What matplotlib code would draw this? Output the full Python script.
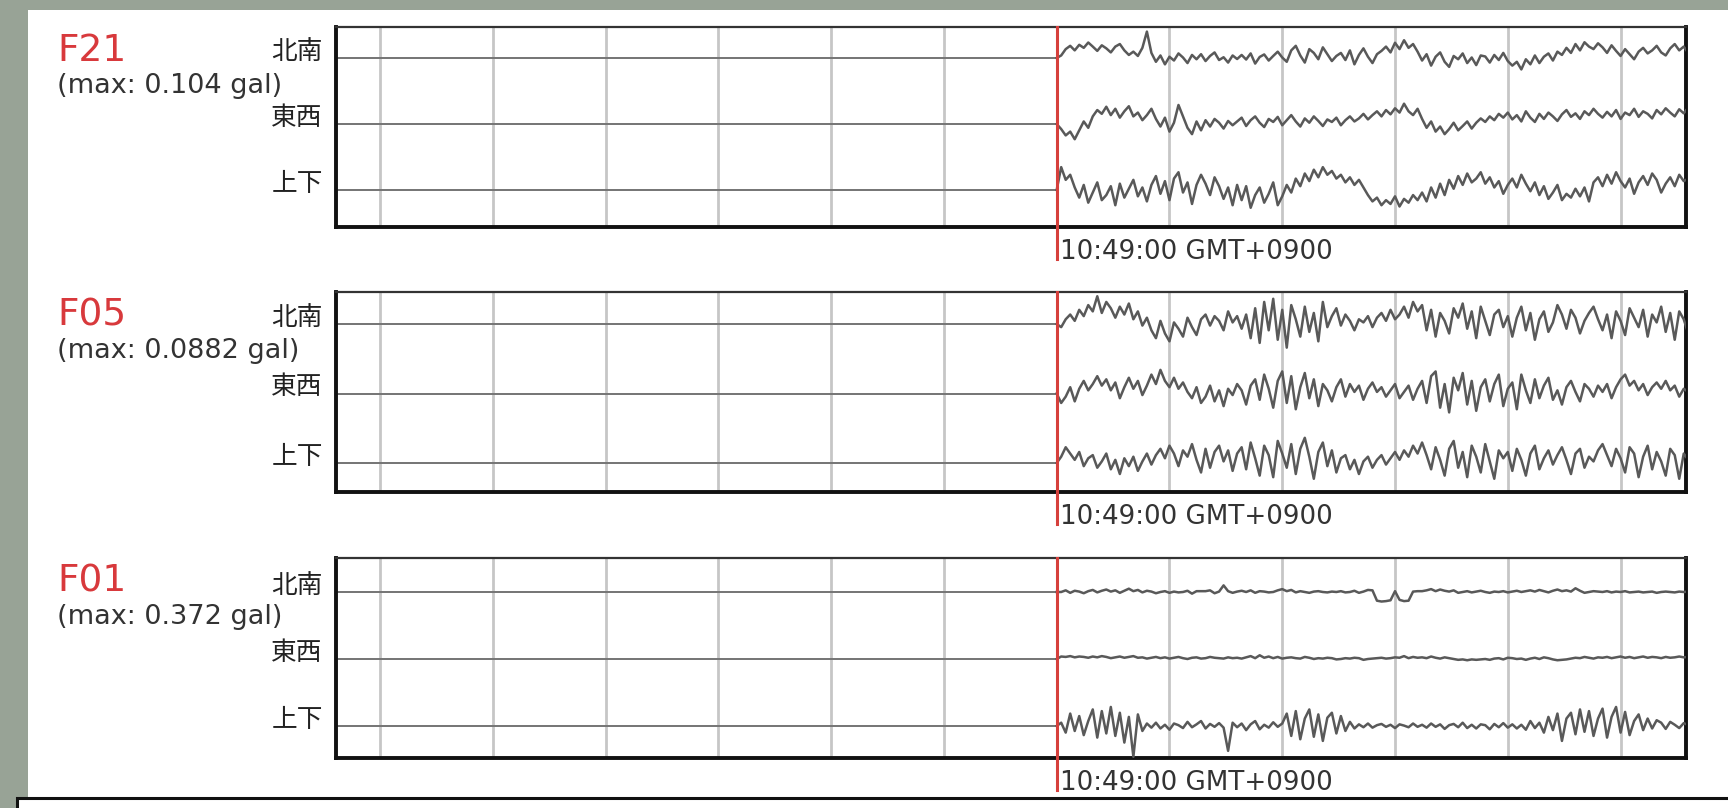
import numpy as np
import matplotlib.pyplot as plt
from matplotlib.patches import Rectangle

# --- DATA ---
STATIONS = ["F21", "F05", "F01"]
PEAK_GAL = [0.104, 0.0882, 0.372]
COMPONENTS = ["北南", "東西", "上下"]
TRIGGER_LABEL = "10:49:00 GMT+0900"

# seconds relative to the trigger time
GRID_SECONDS = [-60, -50, -40, -30, -20, -10, 10, 20, 30, 40, 50]
RECORD_START = -64.0
SAMPLE_DT = 0.4

# acceleration samples after the trigger, in 0.001 gal
F21_NS = [10, 35, 48, 30, 52, 40, 61, 45, 28, 50, 38, 22, 45, 55, 30, 12, 25, 8, 40, 104,
          20, -15, 10, -25, 5, -10, 18, 2, -20, 12, -5, 15, -12, 8, 22, -8, 3, -18, 10, -4,
          12, -6, 18, -22, 4, 14, -10, 8, 25, 2, -15, 30, 48, 10, -18, 35, 20, -5, 42, 15,
          -12, 8, 20, -8, 30, -25, 12, 38, 5, -20, 15, 28, 45, 22, 60, 35, 70, 40, 55, 25,
          -10, 15, -30, 5, 22, -15, -35, 8, -5, 18, -20, 2, -28, 10, 6, -18, 12, -8, 20, -12,
          -30, -15, -45, -5, -25, 10, -20, 5, 18, -10, 25, 12, 40, 20, 55, 30, 62, 45, 35, 58,
          42, 20, 50, 28, 8, 35, 15, -5, 25, 40, 18, 30, 48, 22, 10, 38, 55, 30, 45, 20]
F21_EW = [-20, -45, -30, -60, -25, 10, -15, 30, 55, 40, 68, 35, 60, 25, 50, 70, 30, 45, 15, 35,
          60, 20, -10, 25, -30, 5, 75, 30, -15, -40, 10, -25, 15, -10, 20, 5, -18, 12, -5, 10,
          25, -8, 15, 30, 5, -12, 20, 8, 28, -5, 15, 35, 10, -10, 22, 5, 30, 12, -8, 18,
          8, 25, -5, 15, 30, 10, 22, 40, 18, 35, 50, 30, 55, 38, 62, 45, 80, 50, 35, 60,
          20, -15, 10, -30, -10, -40, -20, 5, -25, -8, 10, -18, 5, 22, 8, 30, 15, 40, 25, 45,
          18, 35, 10, 50, 25, 8, 40, 20, 45, 30, 12, 38, 55, 28, 42, 20, 50, 35, 60, 40,
          25, 48, 30, 55, 20, 45, 35, 60, 28, 50, 40, 22, 55, 38, 62, 45, 30, 58, 42, 65]
F21_UD = [90, 40, 60, 10, -30, 20, -50, -10, 30, -40, -20, 15, -60, 25, -30, 5, 40, -25, 10, -45,
          20, 55, -15, 35, -40, 45, 70, -10, 30, -55, 20, 60, 25, -20, 50, 15, -35, 10, -60, 20,
          -40, 15, -70, -20, 10, -50, -15, 30, -60, -25, 20, -10, 45, 15, 65, 35, 80, 50, 90, 60,
          75, 45, 60, 30, 50, 20, 40, 10, -20, -45, -30, -60, -40, -55, -25, -65, -35, -50, -20, -40,
          -10, -45, 10, -30, 25, -20, 40, 5, 55, 20, 65, 30, 45, 70, 25, 50, 10, 35, -15, 20,
          45, 10, 60, 25, -5, 30, -20, 15, -35, -10, 20, -40, -15, -30, 5, -25, 10, -45, 30, 50,
          15, 60, 25, 70, 35, 10, 45, -15, 30, 55, 20, 65, 40, -10, 25, 50, 15, 60, 35, 45]

F05_NS = [-10, 15, 30, 10, 45, 25, 60, 40, 88, 35, 70, 50, 20, 55, 30, 65, 15, 40, -5, 20,
          -20, -45, 10, -30, -55, 5, -15, -40, 20, -10, -35, 15, 30, -5, 25, 10, -20, 40, 5, 25,
          -15, 30, -45, 50, -60, 70, -20, 80, -50, 45, -75, 60, 15, -40, 55, -25, 35, -55, 70, -10,
          25, 50, -5, 30, 10, -20, 15, 5, 25, -10, 20, 35, 10, 45, 15, 30, 55, 20, 70, 40,
          60, -20, 45, -40, 35, 10, -30, 50, 20, 65, -15, 40, -45, 55, 10, -35, 30, 45, -10, 25,
          -40, 20, 55, -20, 35, -50, 15, 40, -25, 5, 60, 30, -15, 45, 20, -30, 10, 35, 55, 15,
          -20, 30, -45, 40, 10, -35, 50, 20, -10, 45, -40, 30, 5, 55, -25, 35, -50, 40, 15, -30]
F05_EW = [-30, -10, 20, -25, 15, 40, 10, 30, 55, 25, 45, 10, 35, -15, 20, 50, 15, 40, -5, 25,
          60, 30, 75, 40, 20, 50, 15, 35, 5, -15, 20, -30, -10, 25, -25, 10, -40, 15, -5, 30,
          10, -35, 25, 45, -20, 60, 15, -45, 40, 70, -30, 55, -50, 20, 65, -15, 45, -40, 30, 10,
          -25, 20, 45, -10, 30, 5, 25, -20, 15, 35, 5, 20, -10, 10, 30, -15, 5, 25, -20, 15,
          40, -30, 55, 70, -45, 30, -60, 50, 10, 65, -35, 40, -55, 20, 45, -25, 30, 60, -40, 15,
          35, -50, 60, 10, -30, 45, -15, 25, 50, -20, 10, -35, 20, 40, 5, -25, 30, 15, -10, 25,
          5, 30, -15, 20, 45, 60, 25, 40, 10, 30, -5, 20, 35, 15, 40, 10, 25, -10, 15, 5]
F05_UD = [20, 50, 30, 10, 35, -10, 15, 25, -15, 5, 30, -20, 10, -35, 15, -10, 20, -25, 5, 30,
          -5, 25, 45, 15, 55, 30, -10, 40, 20, 60, 10, -30, 45, -15, 35, 55, 5, 40, -25, 30,
          50, -20, 65, 15, -40, 55, 25, -45, 70, 30, -15, 60, -35, 45, 80, 20, -50, 35, 65, -10,
          40, -30, 15, 25, -20, 10, -35, 5, 20, -15, 10, 25, -5, 15, 35, 10, 40, 20, 55, 30,
          65, 25, -20, 50, 10, -40, 45, 70, -15, 35, -45, 55, 20, -30, 60, 5, -50, 40, 15, 35,
          -25, 45, 10, -40, 30, 55, -20, 15, 40, -5, 25, 50, 10, -35, 30, 45, -15, 20, 5, 40,
          60, 25, -10, 45, 15, -30, 50, 30, -45, 20, 55, -20, 35, 5, -40, 45, 25, -50, 30, 10]

F01_NS = [0, 20, -10, 15, 5, -15, 10, 25, -5, 15, 30, 5, 20, -10, 15, 40, 10, 25, -5, 15,
          5, -15, 0, 10, -10, 5, -5, 0, 15, -20, 10, 10, 10, 20, -15, 5, 80, 10, -10, 5,
          15, 0, 20, -10, 10, 5, -5, 0, 20, 35, 10, 25, -5, 10, 0, -10, 5, 10, 0, -5,
          5, 0, 10, -5, 0, 15, -10, 5, 25, 20, -105, -115, -110, -100, 10, -95, -110, -105, 5, 10,
          10, 20, 35, 10, 30, 15, 5, 20, -10, 0, 10, -5, 5, 15, 0, -10, 5, 0, 10, -5,
          5, 15, 0, 10, 20, 5, 25, 10, -5, 15, 30, 10, 20, 5, 45, 15, -10, 0, 10, 5,
          0, 10, -5, 5, 0, 10, -5, 0, 5, -5, 0, 5, -10, 0, 5, 0, -5, 5, 0, 5]
F01_EW = [30, 25, 35, 20, 30, 25, 15, 30, 20, 35, 25, 10, 20, 30, 15, 25, 35, 15, 20, 5,
          15, 25, 10, 20, 5, 15, 25, 10, 0, 15, 20, 5, 10, 25, 15, 10, 5, 20, 10, 15,
          5, 20, 35, 10, 45, 15, 30, 10, 25, 5, 15, 20, 10, 5, 25, 15, 0, 10, 5, 15,
          10, -5, 0, 10, 5, 15, 10, -10, 0, 5, 10, 15, 5, 10, 20, 15, 35, 10, 25, 15,
          20, 10, 30, 15, 5, 20, 10, 0, -10, -5, -15, -5, -10, -5, 0, -10, 5, 10, -5, 15,
          10, 0, 5, -10, 5, 15, 0, 20, 10, -5, -15, -10, -5, 5, 15, 10, 25, 15, 5, 20,
          15, 25, 10, 20, 30, 15, 25, 10, 20, 30, 15, 25, 20, 10, 25, 15, 20, 30, 20, 25]
F01_UD = [40, -80, 150, -60, 120, -110, 60, 200, -140, 180, -90, 230, -120, 160, -200, 110, -372, 140, -60, 30,
          -20, 40, -30, 15, -45, 30, 10, -25, 50, -15, 20, 60, -30, 25, -10, 35, -20, -300, 40, -15,
          30, -50, 20, 60, -40, 15, -20, 45, -10, 30, 150, -120, 180, -160, 90, 200, -130, 140, -180, 100,
          160, -90, 120, -60, 50, -30, 20, -15, 30, -20, 10, 25, -10, 15, -25, 20, 5, -15, 30, -10,
          15, -20, 30, -10, 20, -35, 10, 25, -15, 40, -25, 15, -30, 20, 10, -40, 25, -15, 35, -20,
          20, -30, 15, -45, 60, -25, 40, -80, 110, -50, 150, -180, 90, 160, -100, 200, -70, 180, -120, 90,
          210, -140, 110, 230, -80, 170, -110, 60, 140, -50, 90, -30, 70, 40, -35, 50, 15, -25, 35, 10]

TRACES = [[F21_NS, F21_EW, F21_UD],
          [F05_NS, F05_EW, F05_UD],
          [F01_NS, F01_EW, F01_UD]]

# --- LAYOUT (pixels on a 1728x808 canvas) ---
W, H = 1728, 808
AX_LEFT, AX_RIGHT = 336, 1686
PANEL_TOP = [27, 292, 558]
PANEL_H = 200
BASELINES = [(58, 124, 190), (324, 393, 463), (592, 660, 726)]
GAIN = [0.40, 0.40, 0.46]   # peak excursion as a fraction of trace spacing
XLIM = (-63.9, 55.8)

TRACE_COLOR = "#595959"
BASE_COLOR = "#747474"
GRID_COLOR = "#c6c6c6"
RED = "#d6403c"

plt.rcParams['font.family'] = ['DejaVu Sans', 'Noto Sans CJK JP']

fig = plt.figure(figsize=(W / 100, H / 100), dpi=100)
fig.patch.set_facecolor("#98a396")

# white sheet and the caption box below it
fig.add_artist(Rectangle((28 / W, 0), 1 - 28 / W, 1 - 10 / H, transform=fig.transFigure,
                         facecolor="white", edgecolor="none", zorder=0))
fig.add_artist(Rectangle((17 / W, -0.02), 1, 0.02 + (H - 798) / H, transform=fig.transFigure,
                         facecolor="white", edgecolor="#111111", linewidth=2.2, zorder=5))

for p, station in enumerate(STATIONS):
    top = PANEL_TOP[p]
    bottom = top + PANEL_H
    b_ns, b_ew, b_ud = BASELINES[p]
    spacing = (b_ud - b_ns) / 2
    ylim = (-(bottom - b_ud) / spacing, 2 + (b_ns - top) / spacing)

    ax = fig.add_axes([AX_LEFT / W, 1 - bottom / H, (AX_RIGHT - AX_LEFT) / W, PANEL_H / H])
    ax.set_xlim(*XLIM)
    ax.set_ylim(*ylim)
    ax.set_xticks([])
    ax.set_yticks([])
    for side in ["left", "right", "bottom"]:
        ax.spines[side].set_linewidth(2.8)
        ax.spines[side].set_color("#111111")
    ax.spines["top"].set_linewidth(1.6)
    ax.spines["top"].set_color("#333333")

    for t in GRID_SECONDS:
        ax.axvline(t, color=GRID_COLOR, lw=2.0, zorder=1)

    peak_mgal = PEAK_GAL[p] * 1000
    for k, comp in enumerate(COMPONENTS):
        base = 2 - k
        vals = np.array(TRACES[p][k], dtype=float)
        t = SAMPLE_DT * (np.arange(len(vals)) + 1)
        # quiet pre-trigger record, then the recorded samples
        ax.plot([RECORD_START, 0], [base, base], color=BASE_COLOR, lw=1.4, zorder=2)
        ax.plot(np.concatenate(([0], t)),
                base + np.concatenate(([0], vals)) / peak_mgal * GAIN[p],
                color=TRACE_COLOR, lw=1.8, zorder=3)

        ax.annotate(comp, xy=(0, base), xycoords=("axes fraction", "data"),
                    xytext=(-9.4, 4.5), textcoords="offset points",
                    ha="right", va="center", fontsize=18.5, color="#222222",
                    family=["Noto Sans CJK JP", "DejaVu Sans"], annotation_clip=False)

    # trigger marker running below the frame to the time label
    xt = ax.get_xaxis_transform()
    ax.plot([0, 0], [1, -32 / PANEL_H], transform=xt, color=RED, lw=2.2,
            clip_on=False, zorder=4)
    ax.annotate(TRIGGER_LABEL, xy=(0, -32 / PANEL_H), xycoords=xt,
                xytext=(2.5, 0), textcoords="offset points",
                ha="left", va="baseline", fontsize=18.8, color="#333333",
                annotation_clip=False)

    fig.text(57 / W, 1 - (top + 34) / H, station, color="#d8393c", fontsize=27,
             ha="left", va="baseline")
    fig.text(57 / W, 1 - (top + 66) / H, f"(max: {PEAK_GAL[p]:g} gal)", color="#333333",
             fontsize=19.5, ha="left", va="baseline")

fig.savefig("out.png", dpi=100, facecolor=fig.get_facecolor())
